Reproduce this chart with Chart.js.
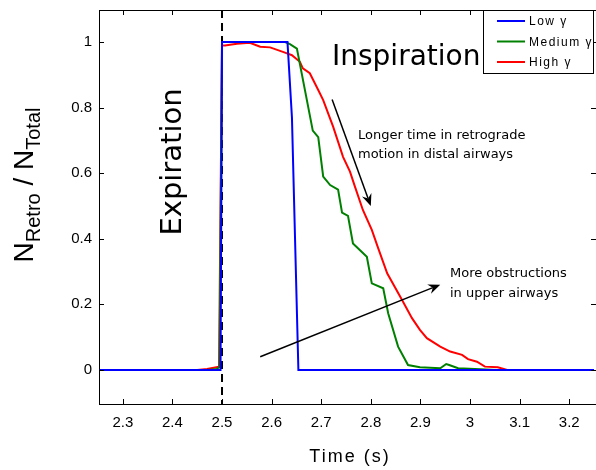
<!DOCTYPE html>
<html>
<head>
<meta charset="utf-8">
<script src="https://cdn.jsdelivr.net/npm/chart.js@4/dist/chart.umd.min.js"></script>
<style>
  html, body { margin: 0; padding: 0; background: #fff; }
  #wrap { width: 596px; height: 470px; }
</style>
</head>
<body>
<div id="wrap"><canvas id="retro"></canvas></div>
<script>
// values
var xTicks = [2.3, 2.4, 2.5, 2.6, 2.7, 2.8, 2.9, 3, 3.1, 3.2];
var yTicks = [0, 0.2, 0.4, 0.6, 0.8, 1];

var tLow = [2.25, 2.497, 2.5, 2.632, 2.641, 2.654, 3.25];
var low  = [0, 0, 1, 1, 0.77, 0, 0];

var tMed = [2.25, 2.47, 2.49, 2.495, 2.5, 2.627, 2.637, 2.651, 2.683, 2.694, 2.704, 2.718, 2.734, 2.742, 2.754, 2.764, 2.792, 2.802, 2.825, 2.835, 2.855, 2.875, 2.899, 2.94, 2.952, 2.958, 2.976, 3.054, 3.25];
var med  = [0, 0, 0.003, 0.01, 1, 1, 0.994, 0.98, 0.73, 0.71, 0.59, 0.564, 0.55, 0.48, 0.47, 0.386, 0.345, 0.264, 0.249, 0.173, 0.071, 0.015, 0.008, 0.005, 0.018, 0.015, 0.005, 0, 0];

var tHigh = [2.25, 2.45, 2.47, 2.494, 2.5, 2.506, 2.53, 2.556, 2.577, 2.597, 2.627, 2.641, 2.657, 2.663, 2.677, 2.694, 2.704, 2.724, 2.744, 2.758, 2.768, 2.784, 2.802, 2.815, 2.833, 2.863, 2.883, 2.899, 2.913, 2.94, 2.96, 2.984, 2.996, 3.014, 3.03, 3.056, 3.075, 3.25];
var high  = [0, 0, 0.003, 0.01, 0.99, 0.99, 0.995, 0.998, 0.986, 0.984, 0.968, 0.96, 0.94, 0.92, 0.905, 0.854, 0.823, 0.742, 0.65, 0.605, 0.559, 0.488, 0.427, 0.371, 0.295, 0.213, 0.158, 0.122, 0.097, 0.071, 0.056, 0.046, 0.033, 0.025, 0.01, 0.008, 0, 0];

var seriesNames = ['Low γ', 'Medium γ', 'High γ'];
var seriesColors = ['#0000ff', '#008000', '#ff0000'];

// annotation arrows [t0, v0, t1, v1]
var arrowLonger = [2.722, 0.825, 2.80, 0.50];
var arrowObstr = [2.577, 0.04, 2.94, 0.26];

function pts(xs, ys) {
    var out = [];
    for (let i = 0; i < xs.length; i++) {
        out.push({ x: xs[i], y: ys[i] });
    }
    return out;
}

function drawArrow(ctx, x0, y0, x1, y1) {
    var a = Math.atan2(y1 - y0, x1 - x0);
    var L = 12, W = 5;
    ctx.beginPath();
    ctx.moveTo(x0, y0);
    ctx.lineTo(x1 - Math.cos(a) * 8, y1 - Math.sin(a) * 8);
    ctx.stroke();
    ctx.beginPath();
    ctx.moveTo(x1, y1);
    ctx.lineTo(x1 - L * Math.cos(a) + W * Math.sin(a), y1 - L * Math.sin(a) - W * Math.cos(a));
    ctx.lineTo(x1 - 8 * Math.cos(a), y1 - 8 * Math.sin(a));
    ctx.lineTo(x1 - L * Math.cos(a) - W * Math.sin(a), y1 - L * Math.sin(a) + W * Math.cos(a));
    ctx.closePath();
    ctx.fill();
}

var extras = {
    id: 'extras',
    beforeDatasetsDraw: function (chart) {
        var ctx = chart.ctx, a = chart.chartArea;
        var xs = chart.scales.x;
        // dashed line at t = 2.5
        ctx.save();
        ctx.strokeStyle = '#000';
        ctx.lineWidth = 2;
        ctx.setLineDash([8, 5]);
        ctx.beginPath();
        ctx.moveTo(xs.getPixelForValue(2.5), a.top);
        ctx.lineTo(xs.getPixelForValue(2.5), a.bottom);
        ctx.stroke();
        ctx.restore();
    },
    afterDraw: function (chart) {
        var ctx = chart.ctx, a = chart.chartArea;
        var xs = chart.scales.x, ys = chart.scales.y;
        ctx.save();
        // frame and inward ticks
        ctx.strokeStyle = '#000';
        ctx.lineWidth = 1;
        ctx.strokeRect(a.left + 0.5, a.top + 0.5, a.right - a.left, a.bottom - a.top);
        ctx.beginPath();
        xTicks.forEach(function (v) {
            var px = Math.round(xs.getPixelForValue(v)) + 0.5;
            ctx.moveTo(px, a.bottom); ctx.lineTo(px, a.bottom - 5);
            ctx.moveTo(px, a.top); ctx.lineTo(px, a.top + 5);
        });
        yTicks.forEach(function (v) {
            var py = Math.round(ys.getPixelForValue(v)) + 0.5;
            ctx.moveTo(a.left, py); ctx.lineTo(a.left + 5, py);
            ctx.moveTo(a.right, py); ctx.lineTo(a.right - 5, py);
        });
        ctx.stroke();

        // arrows
        ctx.lineWidth = 1.5;
        ctx.fillStyle = '#000';
        drawArrow(ctx, xs.getPixelForValue(arrowLonger[0]), ys.getPixelForValue(arrowLonger[1]),
            xs.getPixelForValue(arrowLonger[2]), ys.getPixelForValue(arrowLonger[3]));
        drawArrow(ctx, xs.getPixelForValue(arrowObstr[0]), ys.getPixelForValue(arrowObstr[1]),
            xs.getPixelForValue(arrowObstr[2]), ys.getPixelForValue(arrowObstr[3]));

        // text annotations
        ctx.fillStyle = '#000';
        ctx.textAlign = 'left';
        ctx.textBaseline = 'alphabetic';
        ctx.font = '28px "DejaVu Sans"';
        ctx.fillText('Inspiration', 332, 65);
        ctx.font = '13px "DejaVu Sans"';
        ctx.fillText('Longer time in retrograde', 358, 139);
        ctx.fillText('motion in distal airways', 358, 158);
        ctx.fillText('More obstructions', 450, 277);
        ctx.fillText('in upper airways', 450, 297);

        ctx.save();
        ctx.translate(181, 162);
        ctx.rotate(-Math.PI / 2);
        ctx.textAlign = 'center';
        ctx.font = '29px "DejaVu Sans"';
        ctx.fillText('Expiration', 0, 0);
        ctx.restore();

        // y axis title with subscripts
        ctx.save();
        ctx.translate(33, 185);
        ctx.rotate(-Math.PI / 2);
        var parts = [['N', 0, 28], ['Retro', 7, 20], [' / ', 0, 28], ['N', 0, 28], ['Total', 7, 20]];
        var total = 0;
        parts.forEach(function (p) {
            ctx.font = p[2] + 'px "Liberation Sans"';
            total += ctx.measureText(p[0]).width;
        });
        var cx = -total / 2;
        parts.forEach(function (p) {
            ctx.font = p[2] + 'px "Liberation Sans"';
            ctx.fillText(p[0], cx, p[1]);
            cx += ctx.measureText(p[0]).width;
        });
        ctx.restore();

        // x axis title
        ctx.font = '18px "Liberation Sans"';
        ctx.textAlign = 'center';
        ctx.letterSpacing = '2px';
        ctx.fillText('Time (s)', 350, 462);
        ctx.letterSpacing = '0px';

        // legend
        ctx.fillStyle = '#fff';
        ctx.fillRect(483, 10, 110, 63);
        ctx.strokeStyle = '#000';
        ctx.lineWidth = 1;
        ctx.strokeRect(483.5, 10.5, 110, 63);
        ctx.font = '12px "Liberation Sans"';
        ctx.textAlign = 'left';
        ctx.textBaseline = 'middle';
        ctx.letterSpacing = '1.5px';
        for (let i = 0; i < seriesNames.length; i++) {
            var ry = 21 + i * 20.5;
            ctx.strokeStyle = seriesColors[i];
            ctx.lineWidth = 2;
            ctx.beginPath();
            ctx.moveTo(497, ry); ctx.lineTo(525, ry);
            ctx.stroke();
            ctx.fillStyle = '#000';
            ctx.fillText(seriesNames[i], 529, ry + 1);
        }
        ctx.restore();
    }
};

const ctx = document.getElementById('retro');
const data = {
    datasets: [
        { label: seriesNames[0], data: pts(tLow, low), borderColor: seriesColors[0] },
        { label: seriesNames[1], data: pts(tMed, med), borderColor: seriesColors[1] },
        { label: seriesNames[2], data: pts(tHigh, high), borderColor: seriesColors[2] }
    ]
};
const config = {
    type: 'line',
    data: data,
    options: {
        responsive: true,
        maintainAspectRatio: false,
        animation: false,
        layout: { padding: { top: 10, right: 0, left: 0, bottom: 0 } },
        elements: {
            line: { borderWidth: 2, tension: 0 },
            point: { radius: 0 }
        },
        plugins: { legend: { display: false }, tooltip: { enabled: false } },
        scales: {
            x: {
                type: 'linear',
                min: 2.252,
                max: 3.254,
                afterBuildTicks: function (s) { s.ticks = xTicks.map(function (v) { return { value: v }; }); },
                afterFit: function (s) { s.height = 66; s.paddingLeft = 0; s.paddingRight = 0; },
                grid: { display: false, drawTicks: false },
                border: { display: false },
                ticks: {
                    padding: 10,
                    maxRotation: 0,
                    autoSkip: false,
                    color: '#000',
                    font: { family: 'Liberation Sans', size: 15 },
                    callback: function (v) { return String(v); }
                }
            },
            y: {
                min: -0.104,
                max: 1.098,
                afterBuildTicks: function (s) { s.ticks = yTicks.map(function (v) { return { value: v }; }); },
                afterFit: function (s) { s.width = 99; s.paddingTop = 0; s.paddingBottom = 0; },
                grid: { display: false, drawTicks: false },
                border: { display: false },
                ticks: {
                    padding: 7,
                    autoSkip: false,
                    color: '#000',
                    font: { family: 'Liberation Sans', size: 15 },
                    callback: function (v) { return String(v); }
                }
            }
        }
    },
    plugins: [extras]
};
const retroChart = new Chart(ctx, config);
</script>
</body>
</html>
